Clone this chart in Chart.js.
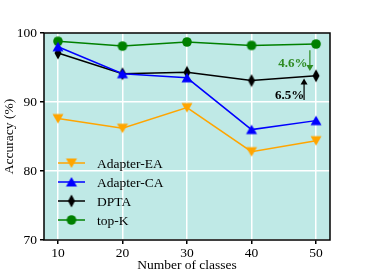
<!DOCTYPE html>
<html>
<head>
<meta charset="utf-8">
<script src="https://cdn.jsdelivr.net/npm/chart.js@4.4.0/dist/chart.umd.min.js"></script>
<style>
  html, body { margin: 0; padding: 0; background: #fff; }
  #wrap { width: 366px; height: 274px; }
</style>
</head>
<body>
<div id="wrap"><canvas id="chart" width="366" height="274"></canvas></div>
<script>
const classes = [10, 20, 30, 40, 50]
const adapterEA = [87.6, 86.2, 89.2, 82.8, 84.4]
const adapterCA = [98.0, 94.1, 93.5, 86.0, 87.3]
const dpta = [97.1, 94.1, 94.3, 93.1, 93.8]
const topK = [98.8, 98.1, 98.7, 98.2, 98.4]
const yTicks = [70, 80, 90, 100]

const FONT = '"Liberation Serif", "DejaVu Serif", serif'

// marker images drawn on small canvases
function marker(kind, color) {
  const c = document.createElement('canvas')
  c.width = 14; c.height = 14
  const g = c.getContext('2d')
  g.fillStyle = color
  g.beginPath()
  if (kind === 'down') {
    g.moveTo(1.5, 2.5); g.lineTo(12.5, 2.5); g.lineTo(7, 12)
  } else if (kind === 'up') {
    g.moveTo(7, 2); g.lineTo(12.5, 11.5); g.lineTo(1.5, 11.5)
  } else if (kind === 'diamond') {
    g.moveTo(7, 0.5); g.lineTo(10.5, 7); g.lineTo(7, 13.5); g.lineTo(3.5, 7)
  } else {
    g.arc(7, 7, 4.8, 0, Math.PI * 2)
  }
  g.closePath()
  g.fill()
  return c
}

function series(label, values, color, kind) {
  return {
    label,
    data: values.map((v, i) => ({ x: classes[i], y: v })),
    borderColor: color,
    backgroundColor: color,
    borderWidth: 1.5,
    pointStyle: marker(kind, color),
    pointRadius: 7,
    tension: 0
  }
}

const datasets = [
  series('Adapter-EA', adapterEA, '#ffa500', 'down'),
  series('Adapter-CA', adapterCA, '#0000ff', 'up'),
  series('DPTA', dpta, '#000000', 'diamond'),
  series('top-K', topK, '#008000', 'circle')
]

const backdrop = {
  id: 'backdrop',
  beforeDraw(chart) {
    const { ctx, chartArea: a } = chart
    ctx.save()
    ctx.fillStyle = '#bfe9e6'
    ctx.fillRect(a.left, a.top, a.right - a.left, a.bottom - a.top)
    ctx.restore()
  },
  afterDraw(chart) {
    const { ctx, chartArea: a, scales } = chart
    ctx.save()
    ctx.strokeStyle = '#000'
    ctx.lineWidth = 1.5
    ctx.strokeRect(a.left, a.top, a.right - a.left, a.bottom - a.top)

    // legend
    ctx.font = '13.5px ' + FONT
    ctx.textBaseline = 'middle'
    chart.data.datasets.forEach((ds, i) => {
      const y = 163 + i * 19
      ctx.strokeStyle = ds.borderColor
      ctx.lineWidth = 1.5
      ctx.beginPath()
      ctx.moveTo(58, y); ctx.lineTo(85, y)
      ctx.stroke()
      ctx.drawImage(ds.pointStyle, 71.5 - 7, y - 7)
      ctx.fillStyle = '#000'
      ctx.fillText(ds.label, 97, y + 1)
    })

    // gap annotations
    const arrow = (xv, y0, y1, color) => {
      const x = scales.x.getPixelForValue(xv)
      const p0 = scales.y.getPixelForValue(y0)
      const p1 = scales.y.getPixelForValue(y1)
      const dir = Math.sign(p1 - p0)
      ctx.strokeStyle = color
      ctx.fillStyle = color
      ctx.lineWidth = 1.2
      ctx.beginPath()
      ctx.moveTo(x, p0); ctx.lineTo(x, p1 - dir * 5)
      ctx.stroke()
      ctx.beginPath()
      ctx.moveTo(x, p1); ctx.lineTo(x - 3.5, p1 - dir * 6); ctx.lineTo(x + 3.5, p1 - dir * 6)
      ctx.closePath()
      ctx.fill()
    }
    arrow(49.05, 97.5, 94.5, '#2e8b22')
    arrow(48.15, 90.3, 93.4, '#000000')

    ctx.font = 'bold 13px ' + FONT
    ctx.textAlign = 'center'
    ctx.textBaseline = 'alphabetic'
    ctx.fillStyle = '#2e8b22'
    ctx.fillText('4.6%', scales.x.getPixelForValue(46.4), scales.y.getPixelForValue(95.1))
    ctx.fillStyle = '#000'
    ctx.fillText('6.5%', scales.x.getPixelForValue(45.9), scales.y.getPixelForValue(90.5))
    ctx.restore()
  }
}

new Chart(document.getElementById('chart'), {
  type: 'line',
  data: { datasets },
  plugins: [backdrop],
  options: {
    responsive: false,
    animation: false,
    layout: { padding: { top: 33, right: 36, left: 0, bottom: 0 } },
    plugins: { legend: { display: false }, tooltip: { enabled: false } },
    scales: {
      x: {
        type: 'linear',
        min: 7.83,
        max: 52.17,
        afterBuildTicks(axis) { axis.ticks = classes.map(v => ({ value: v })) },
        afterFit(axis) { axis.height = 34 },
        ticks: { color: '#000', font: { family: FONT, size: 13.5 }, padding: 1, maxRotation: 0 },
        grid: { color: '#ffffff', lineWidth: 1.5, tickColor: '#000', tickLength: 4 },
        border: { display: false },
        title: { display: true, text: 'Number of classes', color: '#000', font: { family: FONT, size: 13.5 }, padding: { top: 0, bottom: 0 } }
      },
      y: {
        min: 70,
        max: 100,
        afterBuildTicks(axis) { axis.ticks = yTicks.map(v => ({ value: v })) },
        afterFit(axis) { axis.width = 44 },
        ticks: { color: '#000', font: { family: FONT, size: 13.5 }, padding: 3 },
        grid: { color: '#ffffff', lineWidth: 1.5, tickColor: '#000', tickLength: 4 },
        border: { display: false },
        title: { display: true, text: 'Accuracy (%)', color: '#000', font: { family: FONT, size: 13.5 }, padding: { top: 1, bottom: 0 } }
      }
    }
  }
})
</script>
</body>
</html>
